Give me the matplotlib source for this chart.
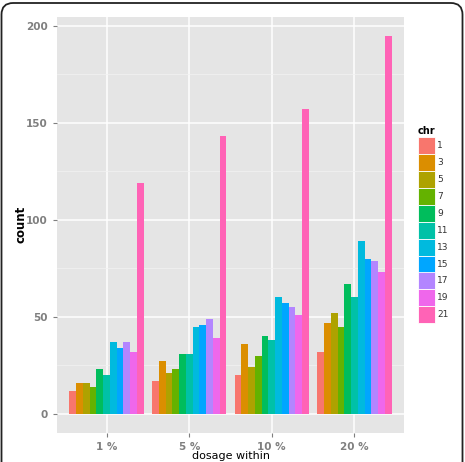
import matplotlib
matplotlib.use("Agg")
import matplotlib.pyplot as plt
import numpy as np
from matplotlib.patches import FancyBboxPatch, Rectangle

dosage = ["1 %", "5 %", "10 %", "20 %"]
chr_labels = ["1", "3", "5", "7", "9", "11", "13", "15", "17", "19", "21"]
counts_1 = [12, 16, 16, 14, 23, 20, 37, 34, 37, 32, 119]
counts_5 = [17, 27, 21, 23, 31, 31, 45, 46, 49, 39, 143]
counts_10 = [20, 36, 24, 30, 40, 38, 60, 57, 55, 51, 157]
counts_20 = [32, 47, 52, 45, 67, 60, 89, 80, 79, 73, 195]
colors = ["#F8766D", "#DB8E00", "#AEA200", "#64B200", "#00BD5C", "#00C1A7",
          "#00BADE", "#00A6FF", "#B385FF", "#EF67EB", "#FF63B6"]

data = np.array([counts_1, counts_5, counts_10, counts_20])

fig = plt.figure(figsize=(4.65, 4.62), dpi=100)
fig.patch.set_facecolor("white")
ax = fig.add_axes([57/465, 1 - 432.7/462, (404 - 57)/465, (432.7 - 16.7)/462])
ax.set_facecolor("#E5E5E5")

n = len(chr_labels)
bw = 0.9 / n
x = np.arange(1, len(dosage) + 1)
for i in range(n):
    ax.bar(x - 0.45 + bw * (i + 0.5), data[:, i], width=bw, color=colors[i],
           linewidth=0, zorder=3)

ax.set_xlim(0.4, 4.6)
ax.set_ylim(-9.75, 204.75)
ax.set_xticks(x)
ax.set_xticklabels(dosage)
ax.set_yticks([0, 50, 100, 150, 200])
ax.set_yticks([25, 75, 125, 175], minor=True)
ax.grid(True, which="major", color="white", linewidth=1.1, zorder=1)
ax.grid(True, which="minor", axis="y", color="#F2F2F2", linewidth=0.5, zorder=1)
for s in ax.spines.values():
    s.set_visible(False)
ax.tick_params(axis="both", which="major", length=3, color="#7F7F7F",
               labelcolor="#7F7F7F", labelsize=7.5, width=0.8)
ax.tick_params(axis="y", which="minor", length=0)
for lbl in ax.get_xticklabels() + ax.get_yticklabels():
    lbl.set_fontweight("bold")
ax.set_xlabel("dosage within", fontsize=8, labelpad=-0.5)
ax.set_ylabel("count", fontsize=8.5, fontweight="bold", labelpad=-1)

# legend
fig.text(418/465, 1 - 130.7/462, "chr", fontsize=7, fontweight="bold",
         ha="left", va="center")
key_top = 137.3
key_h = 16.9
for i, (lab, c) in enumerate(zip(chr_labels, colors)):
    y0 = key_top + i * key_h
    fig.patches.append(Rectangle((417.5/465, 1 - (y0 + key_h)/462), 17/465, key_h/462,
                                 transform=fig.transFigure, facecolor=c,
                                 edgecolor="white", linewidth=0.6))
    fig.text(437/465, 1 - (y0 + key_h/2)/462, lab, fontsize=6.5, ha="left",
             va="center", color="#333333")

# outer rounded frame
fig.patches.append(FancyBboxPatch((1.5/465, -0.05), 461/465, 1.05 - 3/462,
                                  boxstyle="round,pad=0,rounding_size=0.025",
                                  transform=fig.transFigure, facecolor="none",
                                  edgecolor="#222222", linewidth=1.3))

fig.savefig("out.png", dpi=100)
